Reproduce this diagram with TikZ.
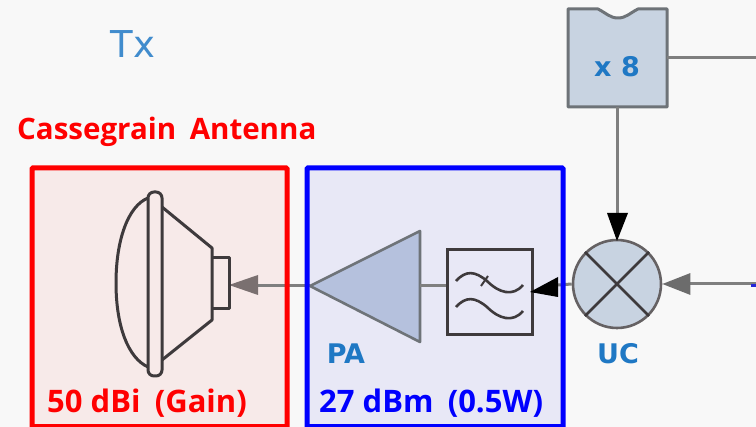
\documentclass[tikz,border=0pt]{standalone}
\usepackage{fontspec}
\setmainfont{Open Sans}
\newfontfamily\labelfont{DejaVu Sans}
\usetikzlibrary{arrows.meta}
\definecolor{bgc}{HTML}{F8F8F8}
\definecolor{redfill}{HTML}{F7EAE9}
\definecolor{bluefill}{HTML}{E8E8F6}
\definecolor{wire}{HTML}{7F7F7F}
\definecolor{dark}{HTML}{3E3A3C}
\definecolor{edge}{HTML}{6E7378}
\definecolor{blockfill}{HTML}{C8D3E1}
\definecolor{patri}{HTML}{B5C1DD}
\definecolor{lab}{HTML}{1F78C4}
\definecolor{hornarrow}{HTML}{7A7070}
\tikzset{
  title/.style={font=\bfseries\fontsize{31}{34}\selectfont,inner sep=0pt,anchor=base west},
  blocklabel/.style={font=\labelfont\bfseries\fontsize{27}{30}\selectfont,text=lab,inner sep=0pt},
  wireline/.style={draw=wire,line width=3pt},
  sym/.style={draw=dark,line width=3pt,line join=round},
  gray tip/.style={-{Triangle[length=28pt,width=21pt,fill=#1,color=#1]}},
}
\begin{document}
\begin{tikzpicture}[x=1pt,y=-1pt]
\useasboundingbox (0,0) rectangle (756,427);
\fill[bgc] (0,0) rectangle (756,427);
% coordinates
\coordinate (pain) at (420,286);
\coordinate (paout) at (310,286);
\coordinate (rightend) at (756,284);
\coordinate (loend) at (756,58);
\coordinate (horn) at (229,285);
% frames (fill)
\fill[redfill] (32,168) rectangle (287,427);
\fill[bluefill] (307,168) rectangle (563,427);
% mixer and filter
\node[circle,draw=dark!80!white,fill=blockfill,line width=2.6pt,minimum size=88pt,inner sep=0pt] (mixer) at (617,284) {};
\draw[dark,line width=2.6pt] (mixer.45) -- (mixer.225) (mixer.135) -- (mixer.315);
\node[rectangle,draw=dark,line width=3pt,minimum width=85pt,minimum height=85pt,inner sep=0pt] (filt) at (489.5,292.5) {};
\draw[dark,line width=2.6pt] (456,281) .. controls (466,270) and (475,271) .. (487,281) .. controls (499,293) and (513,297) .. (523,285);
\draw[dark,line width=2.6pt] (456,307) .. controls (466,296) and (475,297) .. (487,307) .. controls (499,319) and (513,323) .. (523,311);
\draw[dark,line width=2pt] (481,286) -- (488,276);
% x8 block
\draw[draw=edge,fill=blockfill,line width=3pt,line join=round] (568,9) -- (598,9) .. controls (606,13) and (610,18) .. (618,18) .. controls (626,18) and (630,13) .. (638,9) -- (667,9) -- (667,107) -- (568,107) -- cycle;
\coordinate (x8s) at (617,107);
\coordinate (x8e) at (667,58);
\node[blocklabel] (x8) at (617,67) {x 8};
% PA
\draw[draw=edge,fill=patri,line width=2.6pt,line join=round] (paout) -- (420,231) -- (420,342) -- cycle;
% connectors
\draw[wireline] (x8e) -- (loend);
\draw[wireline] (x8s) -- (617,214);
\fill[black] (617,241) -- (607,213) -- (628,213) -- cycle;
\draw[wireline,gray tip=wire!85!black] (rightend) -- (mixer.east);
\draw[wireline] (pain) -- (filt.west |- pain);
\draw[wireline] (mixer.west) -- (558,285);
\fill[black] (530,292) -- (558,277) -- (558,297) -- cycle;
\fill[blue!70!wire] (751,284) rectangle (756,287);
% antenna
\draw[wireline] (paout) -- (258,286);
\fill[hornarrow] (horn) -- (258,275) -- (258,295) -- cycle;
\draw[sym] (148,198) .. controls (128,206) and (116,240) .. (116,283) .. controls (116,326) and (128,358) .. (148,367);
\draw[sym,rounded corners=6pt] (148,192) rectangle (162,376);
\draw[sym] (162,207) -- (212,248) -- (212,320) -- (162,360);
\draw[sym] (212,258) -- (229,258) -- (229,309) -- (212,309);
% frame strokes
\draw[red,line width=5pt,rounded corners=1pt] (32,430) -- (32,168) -- (287,168) -- (287,430);
\draw[blue,line width=5pt,rounded corners=1pt] (307,430) -- (307,168) -- (563,168) -- (563,430);
\draw[red,line width=3pt] (30,426) -- (289,426);
\draw[blue,line width=3pt] (305,426) -- (565,426);
% labels
\node[font=\labelfont\fontsize{37}{40}\selectfont,text=lab!85!white,inner sep=0pt] (tx) at (133,44) {Tx};
\node[blocklabel] (pa) at (346,354) {PA};
\node[blocklabel] (uc) at (618,354) {UC};
\node[title,text=red,font=\bfseries\fontsize{29.5}{32}\selectfont] (cass) at (17,140) {Cassegrain\hspace{0.2em} Antenna};
\node[title,text=red] (gain) at (47,413) {50 dBi\hspace{0.2em} (Gain)};
\node[title,text=blue] (pwr) at (319,413) {27 dBm\hspace{0.2em} (0.5W)};
\end{tikzpicture}
\end{document}
